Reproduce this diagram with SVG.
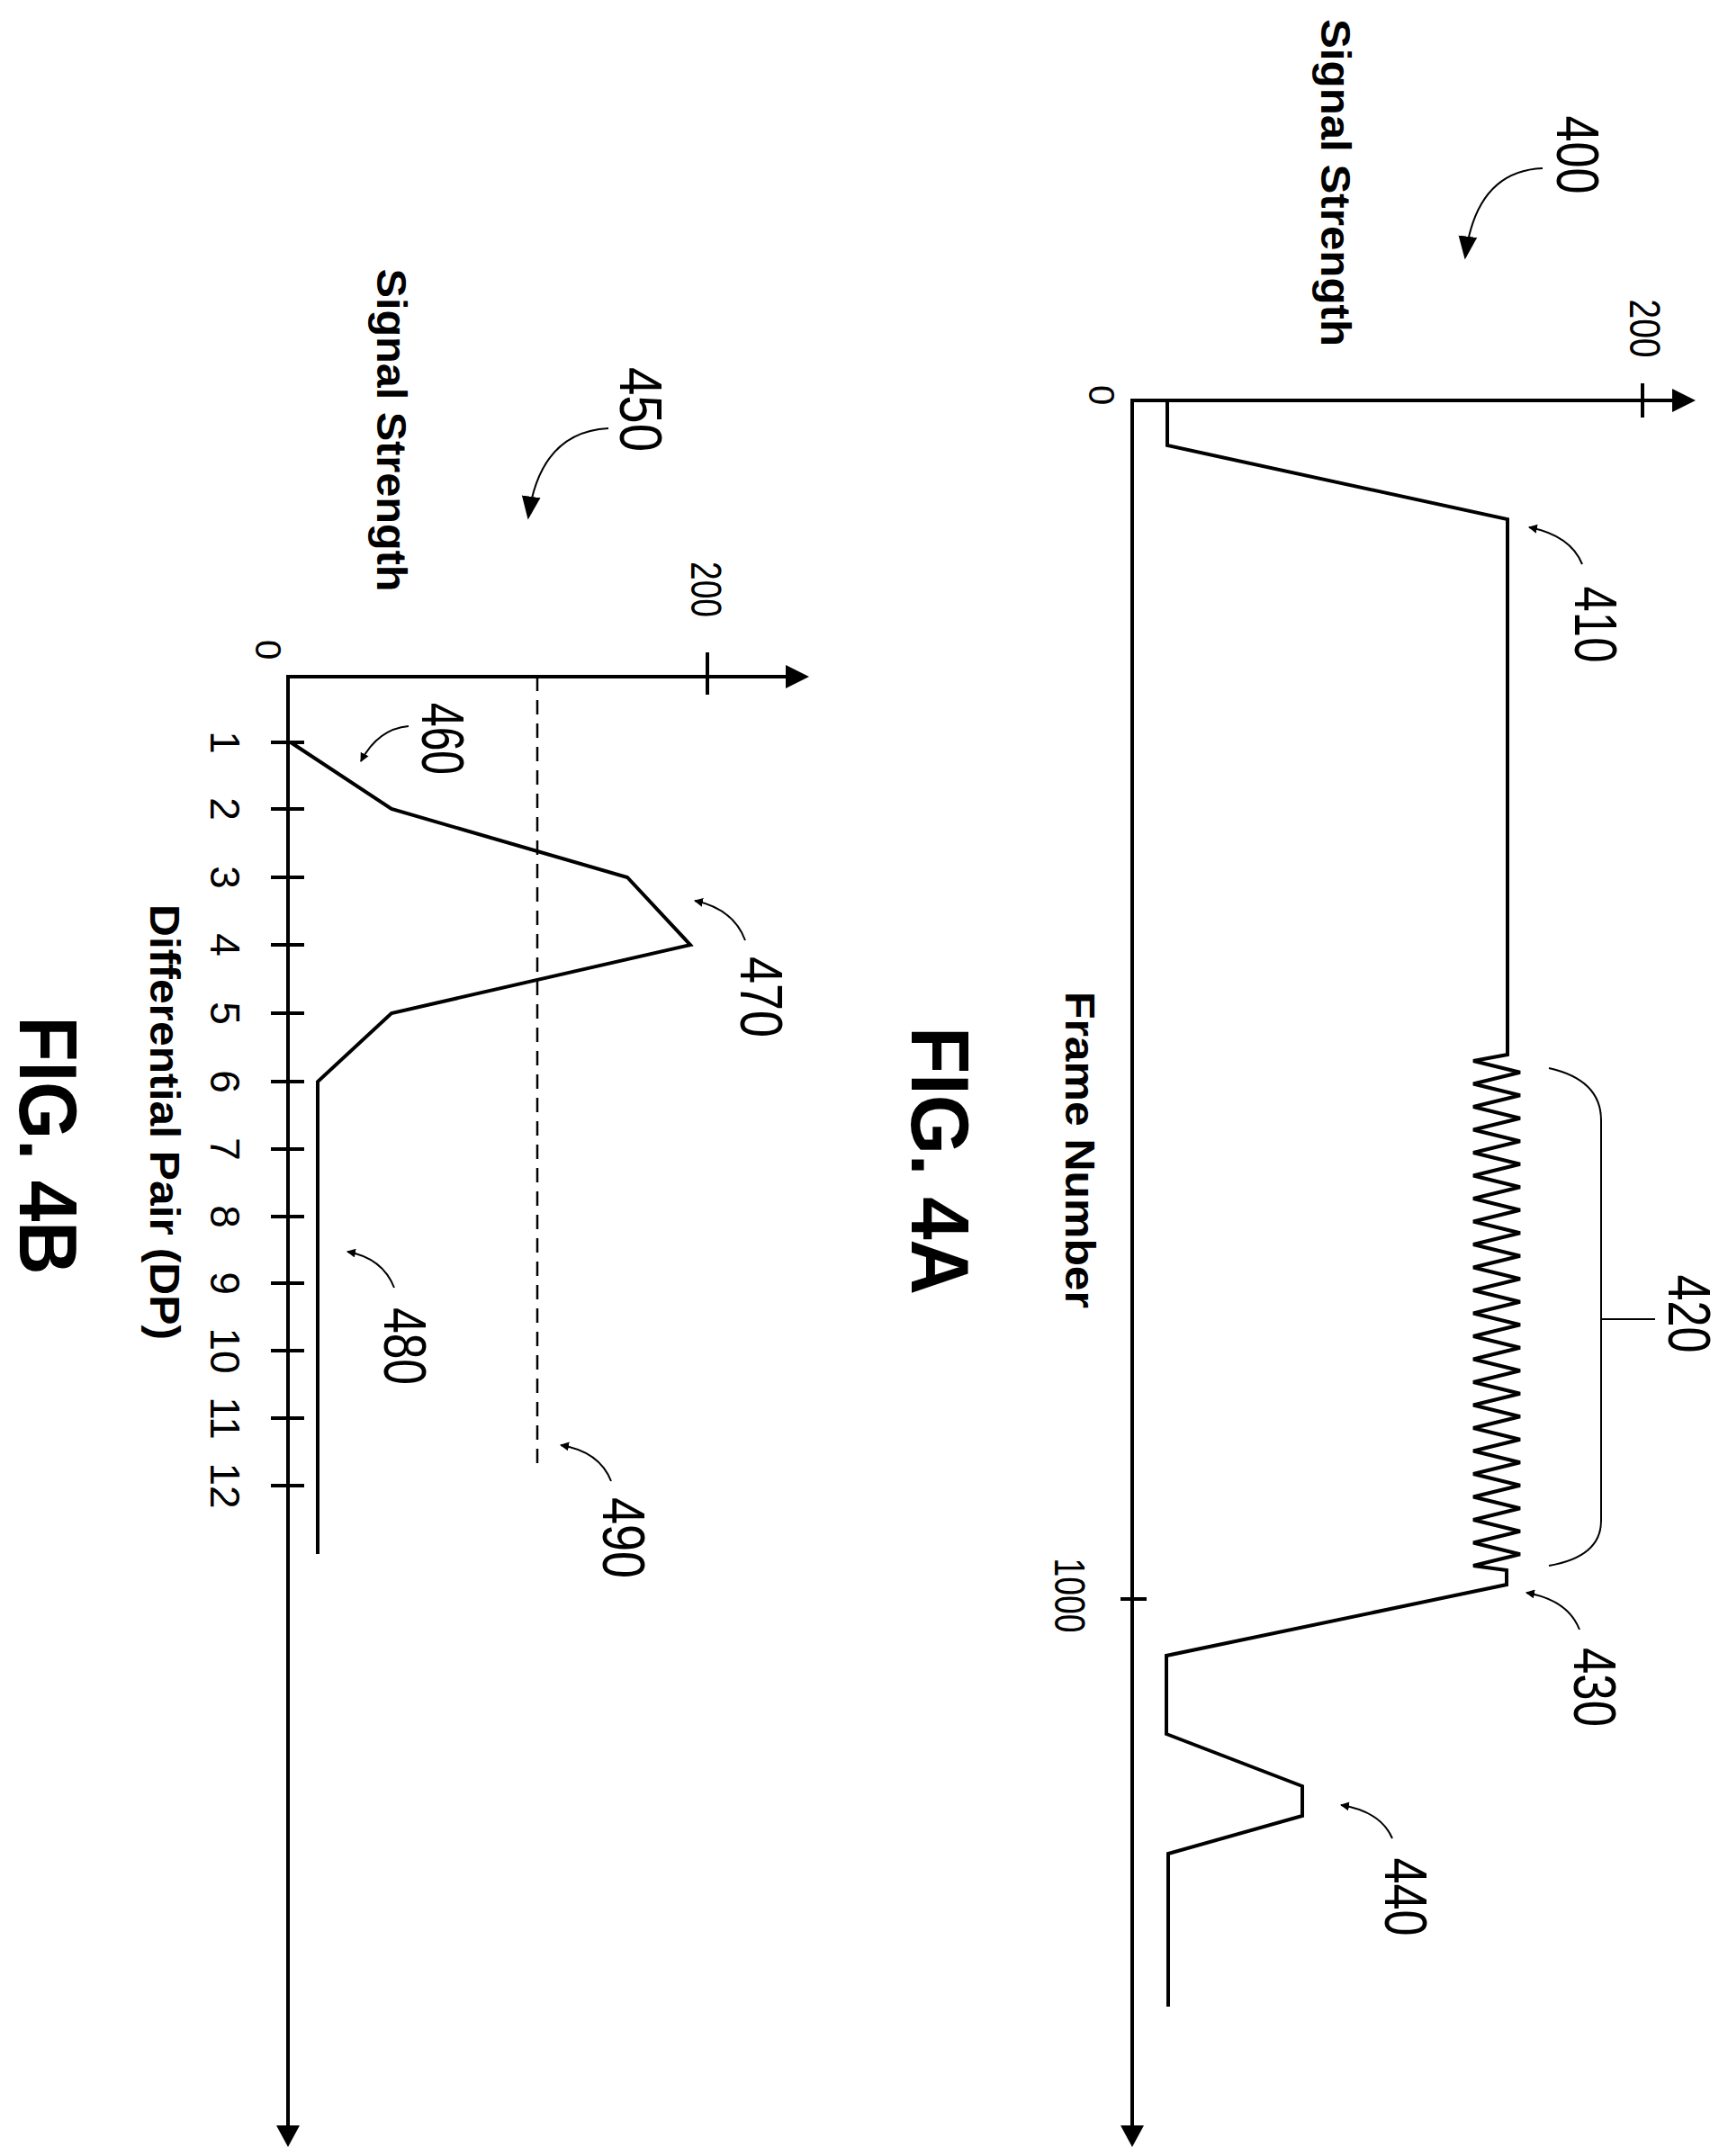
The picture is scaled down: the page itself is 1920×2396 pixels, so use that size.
<svg xmlns="http://www.w3.org/2000/svg" width="1920" height="2396" viewBox="0 0 1920 2396">
<style>
.ax{fill:none;stroke:#000;stroke-width:4}
.tr{fill:none;stroke:#000;stroke-width:4;stroke-linejoin:miter}
.cv{fill:none;stroke:#000;stroke-width:2}
.t{font-family:"Liberation Sans",Arial,sans-serif;fill:#000;text-anchor:middle}
.b{font-weight:bold}
</style>
<defs>
<marker id="ah" viewBox="0 0 10 10" refX="9" refY="5" markerWidth="10" markerHeight="10" markerUnits="userSpaceOnUse" orient="auto"><path d="M0,0 L10,5 L0,10 Z" fill="#000"/></marker>
<marker id="big" viewBox="0 0 10 10" refX="9" refY="5" markerWidth="26" markerHeight="26" markerUnits="userSpaceOnUse" orient="auto"><path d="M0,1 L10,5 L0,9 Z" fill="#000"/></marker>
<marker id="axm" viewBox="0 0 10 10" refX="9" refY="5" markerWidth="9" markerHeight="9" orient="auto"><path d="M0,0 L10,5 L0,10 Z" fill="#000"/></marker>
</defs>
<rect width="1920" height="2396" fill="#fff"/>
<g id="fig4a">
<path class="ax" d="M1880,445 H1258 V2380" marker-start="" />
<path d="M1884,445 L1858,432 L1858,458 Z"/>
<path d="M1258,2386 L1245,2362 L1271,2362 Z"/>
<path class="ax" d="M1825,426 V464 M1245,1777 H1274"/>
<path class="tr" d="M1297,445 V495 L1675,577 V1172 L1637,1179 L1689,1191.75 L1637,1204.5 L1689,1217.25 L1637,1230 L1689,1242.75 L1637,1255.5 L1689,1268.25 L1637,1281 L1689,1293.75 L1637,1306.5 L1689,1319.25 L1637,1332 L1689,1344.75 L1637,1357.5 L1689,1370.25 L1637,1383 L1689,1395.75 L1637,1408.5 L1689,1421.25 L1637,1434 L1689,1446.75 L1637,1459.5 L1689,1472.25 L1637,1485 L1689,1497.75 L1637,1510.5 L1689,1523.25 L1637,1536 L1689,1548.75 L1637,1561.5 L1689,1574.25 L1637,1587 L1689,1599.75 L1637,1612.5 L1689,1625.25 L1637,1638 L1689,1650.75 L1637,1663.5 L1689,1676.25 L1637,1689 L1689,1701.75 L1637,1714.5 L1689,1727.25 L1637,1740 L1674,1745 V1761 L1296,1840 V1927 L1447,1985 V2018 L1298,2060 V2230"/>
<path class="cv" d="M1721,1187 Q1779,1200 1779,1245 V1690 Q1779,1730 1721,1740 M1779,1466 H1839"/>
<text class="t b" font-size="46" textLength="364" lengthAdjust="spacingAndGlyphs" transform="translate(1468,203) rotate(90)">Signal Strength</text>
<text class="t b" font-size="46" textLength="352" lengthAdjust="spacingAndGlyphs" transform="translate(1184,1278) rotate(90)">Frame Number</text>
<text class="t" font-size="48" textLength="65" lengthAdjust="spacingAndGlyphs" transform="translate(1811,365) rotate(90)">200</text>
<text class="t" font-size="40" transform="translate(1210,439) rotate(90)">0</text>
<text class="t" font-size="48" textLength="83" lengthAdjust="spacingAndGlyphs" transform="translate(1172,1773) rotate(90)">1000</text>
<text class="t b" font-size="90" textLength="298" lengthAdjust="spacingAndGlyphs" transform="translate(1013,1290) rotate(90)">FIG. 4A</text>
</g>
<g id="n400">
<text class="t" font-size="66" textLength="87" lengthAdjust="spacingAndGlyphs" transform="translate(1730,172) rotate(90)">400</text>
<path class="cv" d="M1714,187 Q1640,190 1628,286" marker-end="url(#big)"/>
</g>
<g id="n410">
<text class="t" font-size="66" textLength="85" lengthAdjust="spacingAndGlyphs" transform="translate(1750,694) rotate(90)">410</text>
<path class="cv" d="M1758,627 Q1745,595 1699,586" marker-end="url(#ah)"/>
</g>
<g id="n420">
<text class="t" font-size="66" textLength="87" lengthAdjust="spacingAndGlyphs" transform="translate(1854,1460) rotate(90)">420</text>
</g>
<g id="n430">
<text class="t" font-size="66" textLength="88" lengthAdjust="spacingAndGlyphs" transform="translate(1749,1875) rotate(90)">430</text>
<path class="cv" d="M1755,1811 Q1742,1778 1696,1770" marker-end="url(#ah)"/>
</g>
<g id="n440">
<text class="t" font-size="66" textLength="87" lengthAdjust="spacingAndGlyphs" transform="translate(1539,2108) rotate(90)">440</text>
<path class="cv" d="M1547,2043 Q1534,2013 1490,2006" marker-end="url(#ah)"/>
</g>
<g id="fig4b">
<path class="ax" d="M895,752 H320 V2380"/>
<path d="M899,752 L873,739 L873,765 Z"/>
<path d="M320,2386 L307,2362 L333,2362 Z"/>
<path class="ax" d="M786,725 V772"/>
<path class="ax" d="M301,825 H338 M301,899 H338 M301,975 H338 M301,1050 H338 M301,1126 H338 M301,1202 H338 M301,1277 H338 M301,1352 H338 M301,1426 H338 M301,1501 H338 M301,1576 H338 M301,1651 H338"/>
<path class="tr" d="M323,825 L435,899 L697,975 L767,1050 L435,1126 L353,1202 V1727"/>
<path fill="none" stroke="#000" stroke-width="2.5" stroke-dasharray="16,10" d="M597,752 V1628"/>
<g class="t" font-size="46">
<text transform="translate(234,825) rotate(90)">1</text>
<text transform="translate(234,899) rotate(90)">2</text>
<text transform="translate(234,975) rotate(90)">3</text>
<text transform="translate(234,1050) rotate(90)">4</text>
<text transform="translate(234,1126) rotate(90)">5</text>
<text transform="translate(234,1202) rotate(90)">6</text>
<text transform="translate(234,1277) rotate(90)">7</text>
<text transform="translate(234,1352) rotate(90)">8</text>
<text transform="translate(234,1426) rotate(90)">9</text>
<text transform="translate(234,1501) rotate(90)">10</text>
<text transform="translate(234,1576) rotate(90)">11</text>
<text transform="translate(234,1651) rotate(90)">12</text>
</g>
<text class="t" font-size="40" transform="translate(284,722) rotate(90)">0</text>
<text class="t" font-size="48" textLength="62" lengthAdjust="spacingAndGlyphs" transform="translate(768,655) rotate(90)">200</text>
<text class="t b" font-size="46" textLength="359" lengthAdjust="spacingAndGlyphs" transform="translate(419,478) rotate(90)">Signal Strength</text>
<text class="t b" font-size="46" textLength="484" lengthAdjust="spacingAndGlyphs" transform="translate(167,1247) rotate(90)">Differential Pair (DP)</text>
<text class="t b" font-size="90" textLength="287" lengthAdjust="spacingAndGlyphs" transform="translate(22,1273) rotate(90)">FIG. 4B</text>
</g>
<g id="n450">
<text class="t" font-size="66" textLength="94" lengthAdjust="spacingAndGlyphs" transform="translate(689,455) rotate(90)">450</text>
<path class="cv" d="M676,476 Q600,480 587,575" marker-end="url(#big)"/>
</g>
<g id="n460">
<text class="t" font-size="66" textLength="80" lengthAdjust="spacingAndGlyphs" transform="translate(469,821) rotate(90)">460</text>
<path class="cv" d="M454,807 Q420,810 401,846" marker-end="url(#ah)"/>
</g>
<g id="n470">
<text class="t" font-size="66" textLength="90" lengthAdjust="spacingAndGlyphs" transform="translate(823,1108) rotate(90)">470</text>
<path class="cv" d="M828,1045 Q815,1010 772,1001" marker-end="url(#ah)"/>
</g>
<g id="n480">
<text class="t" font-size="66" textLength="86" lengthAdjust="spacingAndGlyphs" transform="translate(427,1496) rotate(90)">480</text>
<path class="cv" d="M438,1431 Q425,1398 386,1391" marker-end="url(#ah)"/>
</g>
<g id="n490">
<text class="t" font-size="66" textLength="90" lengthAdjust="spacingAndGlyphs" transform="translate(670,1709) rotate(90)">490</text>
<path class="cv" d="M679,1646 Q666,1613 623,1606" marker-end="url(#ah)"/>
</g>
</svg>
